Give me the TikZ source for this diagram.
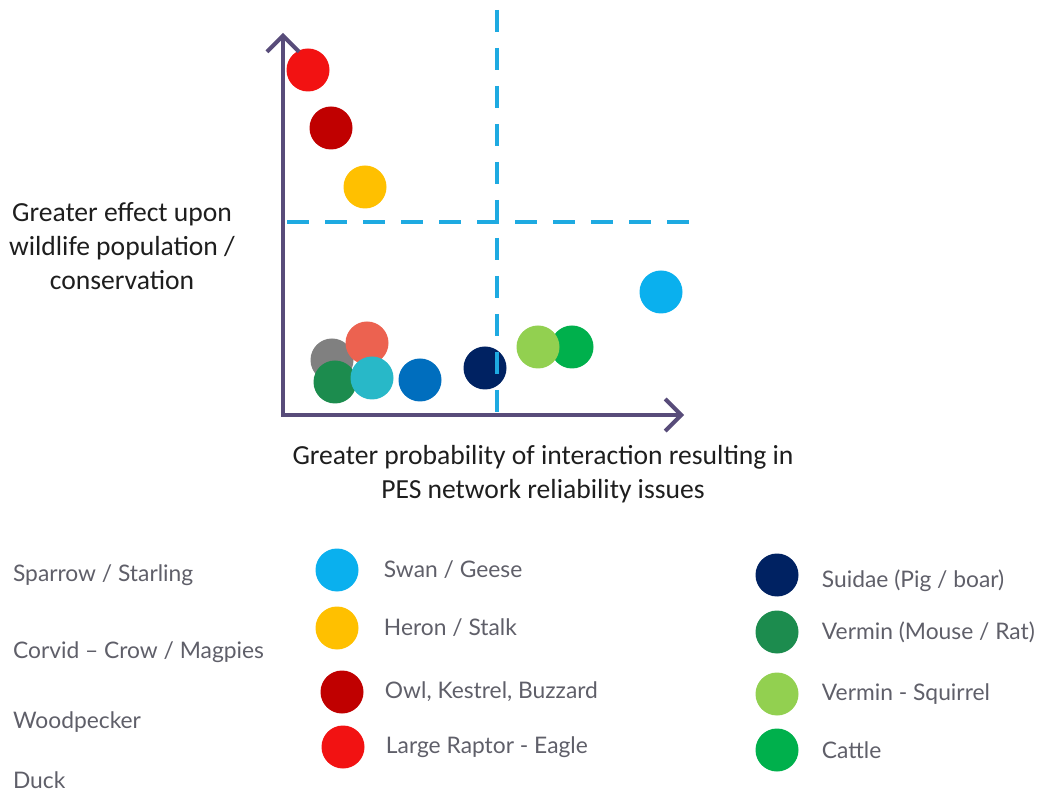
\documentclass[tikz,border=0pt]{standalone}
\usepackage{fontspec}
\setmainfont{Carlito}
\newfontfamily\legendfont{Lato}
\usetikzlibrary{arrows.meta, positioning}
\definecolor{axiscol}{RGB}{88,76,122}
\definecolor{quadcol}{RGB}{30,170,225}
\definecolor{labelgray}{RGB}{30,30,30}
\definecolor{legendgray}{RGB}{95,95,105}
\definecolor{raptor}{RGB}{242,18,18}
\definecolor{owl}{RGB}{192,0,0}
\definecolor{heron}{RGB}{255,192,0}
\definecolor{swan}{RGB}{10,176,238}
\definecolor{sparrow}{RGB}{128,128,128}
\definecolor{corvid}{RGB}{236,98,80}
\definecolor{mouse}{RGB}{28,140,78}
\definecolor{woodpecker}{RGB}{40,184,200}
\definecolor{duck}{RGB}{0,110,190}
\definecolor{suidae}{RGB}{0,34,98}
\definecolor{squirrel}{RGB}{146,208,80}
\definecolor{cattle}{RGB}{0,176,76}
\tikzset{
  dot/.style={circle, inner sep=0pt, minimum size=21.5pt},
  axis/.style={line width=2pt, draw=axiscol, {Straight Barb[length=8pt,width=16pt]}-{Straight Barb[length=8pt,width=16pt]}},
  quadrant/.style={line width=2pt, draw=quadcol, dash pattern=on 11pt off 8pt},
  axislabel/.style={font=\fontsize{13.8}{17}\selectfont, text=labelgray, align=center},
  legendtext/.style={font=\legendfont\fontsize{11.4}{12}\selectfont, text=legendgray, anchor=west},
}

\begin{document}
\begin{tikzpicture}[x=0.5pt, y=-0.5pt]
	\useasboundingbox (0,0) rectangle (1038,801);

	% plotted animals
	\node [dot, fill=raptor] (raptorpt) at (308,70) {};
	\node [dot, fill=owl] (owlpt) at (331,128) {};
	\node [dot, fill=heron] (heronpt) at (365,187) {};
	\node [dot, fill=swan] (swanpt) at (661,292) {};
	\node [dot, fill=sparrow] (sparrowpt) at (332,360) {};
	\node [dot, fill=corvid] (corvidpt) at (367,343) {};
	\node [dot, fill=mouse] (mousept) at (335,382) {};
	\node [dot, fill=woodpecker] (woodpeckerpt) at (372,378) {};
	\node [dot, fill=duck] (duckpt) at (420,380) {};
	\node [dot, fill=suidae] (suidaept) at (485,368) {};
	\node [dot, fill=cattle] (cattlept) at (572,347) {};
	\node [dot, fill=squirrel] (squirrelpt) at (538,347) {};

	% quadrants
	\coordinate (vtop) at (497,10);
	\coordinate (vbot) at (497,417);
	\coordinate (hleft) at (287,222);
	\coordinate (hright) at (693,222);
	\draw [quadrant] (vtop) -- (vbot);
	\draw [quadrant] (hleft) -- (hright);

	% axes
	\coordinate (origin) at (283,415);
	\coordinate (ytip) at (283,33);
	\coordinate (xtip) at (684,415);
	\draw [axis] (ytip) -- (origin) -- (xtip);

	\node [axislabel] (ylabel) at (122,246) {Greater effect upon\\wildlife population /\\conservation};
	\node [axislabel] (xlabel) at (543,474) {Greater probability of interaction resulting in\\PES network reliability issues};

	% legend
	\node [legendtext] (sparrowtx) at (6,575) {Sparrow / Starling};
	\node [legendtext] (corvidtx) at (6,652) {Corvid – Crow / Magpies};
	\node [legendtext] (woodpeckertx) at (6,722) {Woodpecker};
	\node [legendtext] (ducktx) at (6,780) {Duck};

	\node [dot, fill=swan] (swanleg) at (337,570) {};
	\node [dot, fill=heron] (heronleg) at (337,628) {};
	\node [dot, fill=owl] (owlleg) at (342,692) {};
	\node [dot, fill=raptor] (raptorleg) at (343,747) {};
	\node [legendtext, right=9pt of swanleg] (swantx) {Swan / Geese};
	\node [legendtext, right=9pt of heronleg] (herontx) {Heron / Stalk};
	\node [legendtext, right=7pt of owlleg] (owltx) {Owl, Kestrel, Buzzard};
	\node [legendtext, right=7pt of raptorleg] (raptortx) {Large Raptor - Eagle};

	\node [dot, fill=suidae] (suidaeleg) at (777,575) {};
	\node [dot, fill=mouse] (mouseleg) at (777,632) {};
	\node [dot, fill=squirrel] (squirrelleg) at (777,694) {};
	\node [dot, fill=cattle] (cattleleg) at (777,750) {};
	\node [legendtext, right=8pt of suidaeleg, yshift=-3pt] (suidaetx) {Suidae (Pig / boar)};
	\node [legendtext, right=8pt of mouseleg] (mousetx) {Vermin (Mouse / Rat)};
	\node [legendtext, right=8pt of squirrelleg] (squirreltx) {Vermin - Squirrel};
	\node [legendtext, right=8pt of cattleleg] (cattletx) {Cattle};

\end{tikzpicture}
\end{document}
